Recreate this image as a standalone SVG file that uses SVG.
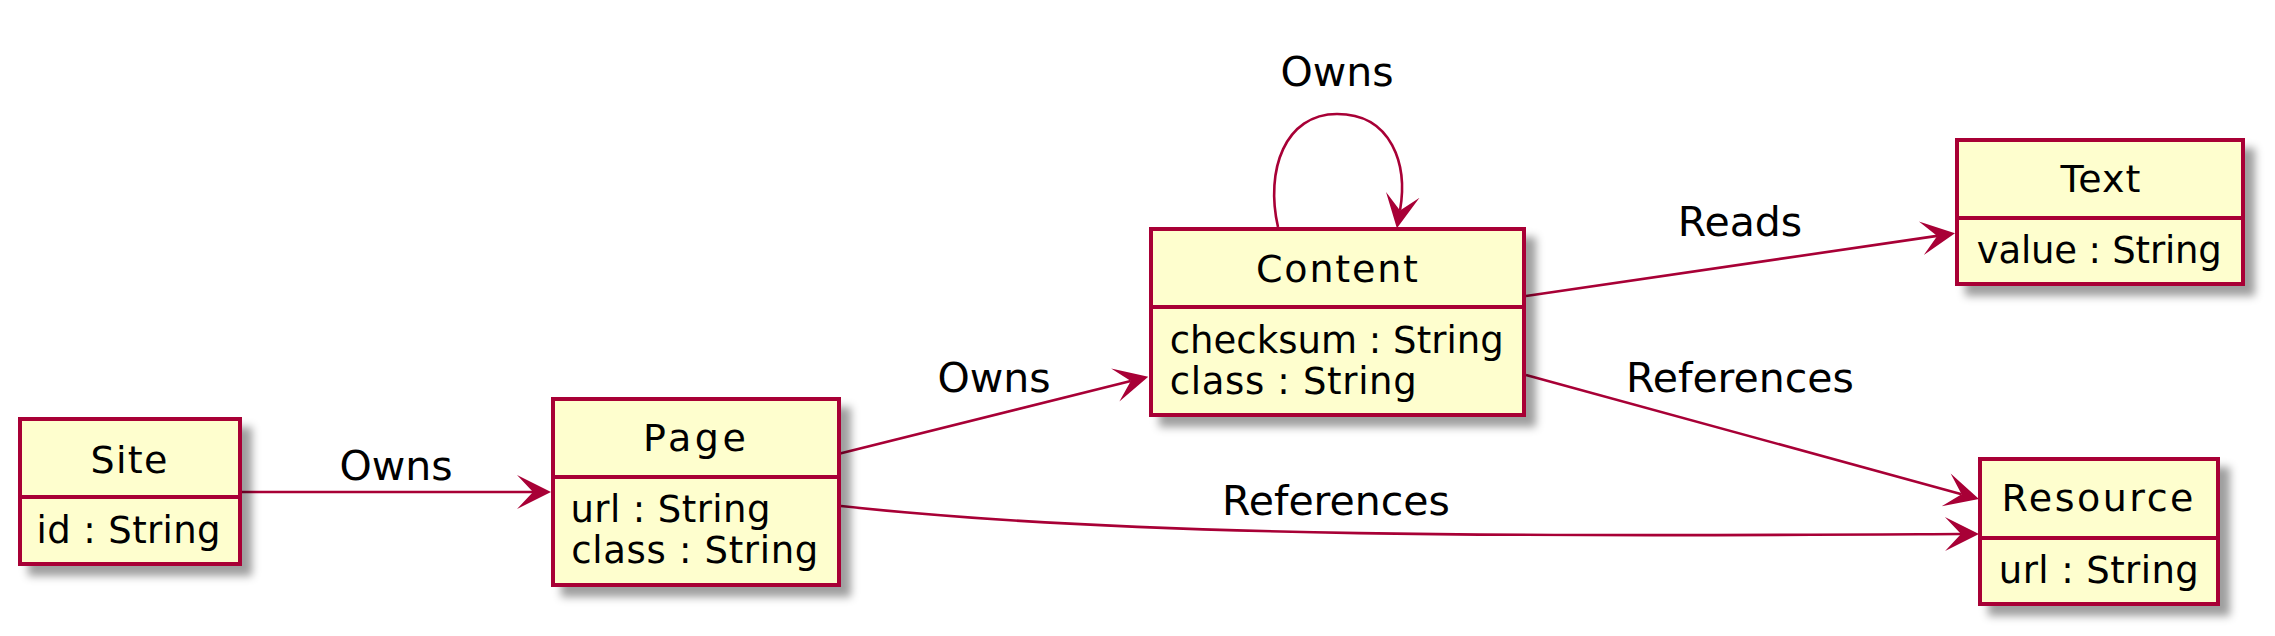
<svg xmlns="http://www.w3.org/2000/svg" width="2275" height="636" viewBox="0 0 2275 636">
<style>
.box{fill:#FEFECE;stroke:#A80036;stroke-width:4;filter:url(#sh)}
.div{stroke:#A80036;stroke-width:4}
.t{font-family:"DejaVu Sans",sans-serif;font-size:37px;fill:#000}
.n{text-anchor:middle;font-size:38px}
.lbl{font-family:"DejaVu Sans",sans-serif;font-size:41px;fill:#000;text-anchor:middle}
.edge{fill:none;stroke:#A80036;stroke-width:2.6;marker-end:url(#ah)}
</style>
<defs>
<filter id="sh" x="-20%" y="-20%" width="150%" height="150%">
<feDropShadow dx="10" dy="10" stdDeviation="4.5" flood-color="#000" flood-opacity="0.38"/>
</filter>
<marker id="ah" markerUnits="userSpaceOnUse" markerWidth="40" markerHeight="40" refX="16" refY="17" orient="auto" overflow="visible">
<path d="M0,0 L34,17 L0,34 L16,17 Z" fill="#A80036"/>
</marker>
</defs>
<g id="connectors">
<path class="edge" d="M242,492 L533,492"/>
<path class="edge" d="M840,453.5 L1130.8,381.1"/>
<path class="edge" d="M1526,296 L1937.2,235.9"/>
<path class="edge" d="M1526,375 L1961.6,494.2"/>
<path class="edge" d="M841,506 C1150,540 1600,536 1961,534"/>
<path class="edge" d="M1278,227 C1265,170 1285,114 1337,114 C1392,114 1408,165 1400,210.6"/>
<text class="lbl" x="396" y="480">Owns</text>
<text class="lbl" x="994" y="392">Owns</text>
<text class="lbl" x="1337" y="86">Owns</text>
<text class="lbl" x="1740" y="236">Reads</text>
<text class="lbl" x="1740" y="392">References</text>
<text class="lbl" x="1336" y="515">References</text>
</g>
<g id="Site">
<rect class="box" x="20" y="419" width="220" height="145"/>
<line class="div" x1="20" y1="497" x2="240" y2="497"/>
<text class="t n" x="129" y="473" textLength="77" lengthAdjust="spacing">Site</text>
<text class="t" x="36.6" y="543" textLength="184" lengthAdjust="spacing">id : String</text>
</g>
<g id="Page">
<rect class="box" x="553" y="399" width="286" height="186"/>
<line class="div" x1="553" y1="477" x2="839" y2="477"/>
<text class="t n" x="694.5" y="451" textLength="103" lengthAdjust="spacing">Page</text>
<text class="t" x="570.4" y="522" textLength="200" lengthAdjust="spacing">url : String</text>
<text class="t" x="571.3" y="563" textLength="247" lengthAdjust="spacing">class : String</text>
</g>
<g id="Content">
<rect class="box" x="1151" y="229" width="373" height="186"/>
<line class="div" x1="1151" y1="307" x2="1524" y2="307"/>
<text class="t n" x="1337" y="282" textLength="162" lengthAdjust="spacing">Content</text>
<text class="t" x="1169.7" y="353" textLength="334" lengthAdjust="spacing">checksum : String</text>
<text class="t" x="1169.7" y="394" textLength="247" lengthAdjust="spacing">class : String</text>
</g>
<g id="Text">
<rect class="box" x="1957" y="140" width="286" height="144"/>
<line class="div" x1="1957" y1="218" x2="2243" y2="218"/>
<text class="t n" x="2100.5" y="192" textLength="80" lengthAdjust="spacing">Text</text>
<text class="t" x="1976.8" y="263" textLength="245" lengthAdjust="spacing">value : String</text>
</g>
<g id="Resource">
<rect class="box" x="1980" y="459" width="238" height="145"/>
<line class="div" x1="1980" y1="538" x2="2218" y2="538"/>
<text class="t n" x="2097.5" y="511" textLength="192" lengthAdjust="spacing">Resource</text>
<text class="t" x="1998.8" y="583" textLength="200" lengthAdjust="spacing">url : String</text>
</g>
</svg>
